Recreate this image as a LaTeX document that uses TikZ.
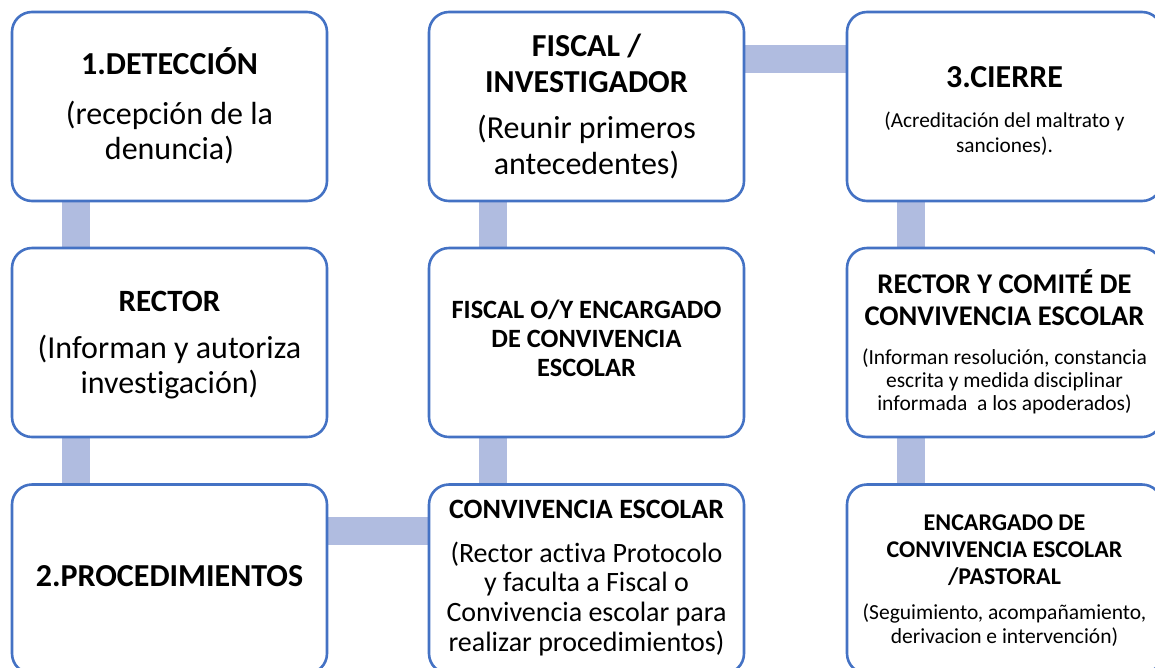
\documentclass[tikz,border=0pt]{standalone}
\usepackage{fontspec}
\setmainfont{Carlito}[Ligatures=NoCommon]
\usetikzlibrary{calc}
\pgfdeclarelayer{bg}
\pgfsetlayers{bg,main}
\definecolor{boxblue}{HTML}{4472C4}
\definecolor{connblue}{HTML}{B0BCE0}
\newcommand\mkblk[1]{\begin{tabular}[t]{@{}c@{}}#1\end{tabular}}
\newcommand\fs[2]{\fontsize{#1}{#2}\selectfont}
\begin{document}
\begin{tikzpicture}[x=1pt,y=-1pt,
  card/.style={draw=boxblue, line width=2.6pt, fill=white, rounded corners=20pt,
    minimum width=315pt, minimum height=189pt, inner sep=0pt},
  conn/.style={draw=connblue, line width=28pt},
  txt/.style={anchor=base, inner sep=0pt, text=black}]
\useasboundingbox (0,0) rectangle (1155,667);
\clip (0,0) rectangle (1155,667);

\node[card] (d1) at (169.5,106.5) {};
\node[card] (r1) at (169.5,342.5) {};
\node[card] (p1) at (169.5,579) {};
\node[card] (f1) at (586.5,106.5) {};
\node[card] (f2) at (586.5,342.5) {};
\node[card] (cv) at (586.5,579) {};
\node[card] (c1) at (1004.5,106.5) {};
\node[card] (c2) at (1004.5,342.5) {};
\node[card] (c3) at (1004.5,579) {};

\node[txt] (d1t) at (169.5,74) {\fs{32}{36}\bfseries 1.DETECCIÓN};
\node[txt] (d1s) at (169.5,124) {\fs{32}{35}\mkblk{(recepción de la\\denuncia)}};
\node[txt] (f1t) at (586.5,56) {\fs{32}{36}\bfseries\mkblk{FISCAL /\\INVESTIGADOR}};
\node[txt] (f1s) at (586.5,138) {\fs{32}{36}\mkblk{(Reunir primeros\\antecedentes)}};
\node[txt] (c1t) at (1004.5,87) {\fs{32}{36}\bfseries 3.CIERRE};
\node[txt] (c1s) at (1004.5,127) {\fs{21.3}{25}\mkblk{(Acreditación del maltrato y\\sanciones).}};
\node[txt] (r1t) at (169.5,311) {\fs{31}{36}\bfseries RECTOR};
\node[txt] (r1s) at (169.5,358) {\fs{32}{35}\mkblk{(Informan y autoriza\\investigación)}};
\node[txt] (f2t) at (586.5,318) {\fs{26.4}{29}\bfseries\mkblk{FISCAL O/Y ENCARGADO\\DE CONVIVENCIA\\ESCOLAR}};
\node[txt] (cvt) at (586.5,518) {\fs{28}{30}\bfseries CONVIVENCIA ESCOLAR};
\node[txt] (cvs) at (586.5,562) {\fs{28}{29.7}\mkblk{(Rector activa Protocolo\\y faculta a Fiscal o\\Convivencia escolar para\\realizar procedimientos)}};
\node[txt] (p1t) at (169.5,586) {\fs{32}{36}\bfseries 2.PROCEDIMIENTOS};
\node[txt] (c2t) at (1004.5,293) {\fs{28.5}{32}\bfseries\mkblk{RECTOR Y COMITÉ DE\\CONVIVENCIA ESCOLAR}};
\node[txt] (c2s) at (1004.5,364) {\fs{21.5}{23}\mkblk{(Informan resolución, constancia\\escrita y medida disciplinar\\informada\ \ a los apoderados)}};
\node[txt] (c3t) at (1004.5,530) {\fs{24}{27}\bfseries\mkblk{ENCARGADO DE\\CONVIVENCIA ESCOLAR\\/PASTORAL}};
\node[txt] (c3s) at (1004.5,619) {\fs{21.5}{24}\mkblk{(Seguimiento, acompañamiento,\\derivacion e intervención)}};

\begin{pgfonlayer}{bg}
\draw[conn] ($(d1.south west)!0.205!(d1.south east)$) -- ($(r1.north west)!0.205!(r1.north east)$);
\draw[conn] ($(r1.south west)!0.205!(r1.south east)$) -- ($(p1.north west)!0.205!(p1.north east)$);
\draw[conn] ($(p1.north east)!0.25!(p1.south east)$) -- ($(cv.north west)!0.25!(cv.south west)$);
\draw[conn] ($(cv.north west)!0.205!(cv.north east)$) -- ($(f2.south west)!0.205!(f2.south east)$);
\draw[conn] ($(f2.north west)!0.205!(f2.north east)$) -- ($(f1.south west)!0.205!(f1.south east)$);
\draw[conn] ($(f1.north east)!0.25!(f1.south east)$) -- ($(c1.north west)!0.25!(c1.south west)$);
\draw[conn] ($(c1.south west)!0.205!(c1.south east)$) -- ($(c2.north west)!0.205!(c2.north east)$);
\draw[conn] ($(c2.south west)!0.205!(c2.south east)$) -- ($(c3.north west)!0.205!(c3.north east)$);
\end{pgfonlayer}
\end{tikzpicture}
\end{document}
